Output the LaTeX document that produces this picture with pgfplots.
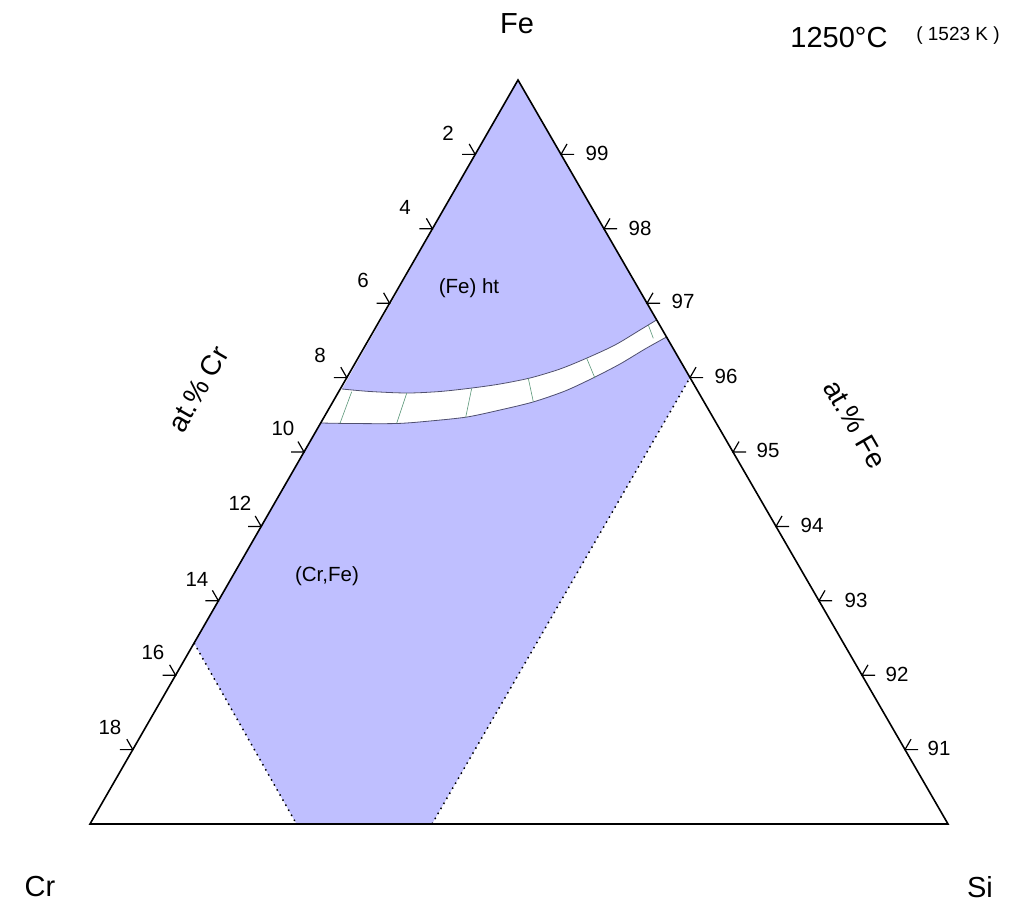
\documentclass[border=0pt]{standalone}
\usepackage{pgfplots}
\pgfplotsset{compat=1.18}
\usepackage{fontspec}
\setmainfont{Liberation Sans}
\definecolor{phase}{RGB}{191,191,255}
\definecolor{bnd}{RGB}{80,80,110}
\definecolor{tie}{RGB}{90,150,120}
\tikzset{tl/.style={font=\fontsize{20.5}{22}\selectfont, inner sep=0pt},
         bl/.style={font=\fontsize{29}{32}\selectfont, inner sep=0pt},
         al/.style={font=\fontsize{28}{31}\selectfont, inner sep=0pt}}
\begin{document}
\begin{tikzpicture}
\begin{axis}[
  scale only axis, width=1018pt, height=912pt,
  xmin=0, xmax=1018, ymin=0, ymax=912, y dir=reverse,
  hide axis, clip=false, unbounded coords=jump,
]
\path (rel axis cs:0,0) rectangle (rel axis cs:1,1);
% (Fe) ht region
\addplot[draw=none, fill=phase] coordinates {
 (518,80) (342,389) (370,391.5) (407,393) (440,391.5) (472,388) (500,384)
 (530,378) (560,369) (587,358) (615,345) (640,330) (656.5,320) (518,80)};
% (Cr,Fe) region
\addplot[draw=none, fill=phase] coordinates {
 (321,423) (194,643) (296.5,824) (432,824) (690,377.6) (666.5,337)
 (645,349) (620,364) (593,378) (565,391) (533,402) (500,410) (467,417)
 (430,421) (397,423.5) (350,423.5) (321,423)};
% band boundaries
\addplot[bnd, line width=0.8pt, smooth] coordinates {
 (342,389) (370,391.5) (407,393) (440,391.5) (472,388) (500,384)
 (530,378) (560,369) (587,358) (615,345) (640,330) (656.5,320)};
\addplot[bnd, line width=0.8pt, smooth] coordinates {
 (321,423) (350,423.5) (397,423.5) (430,421) (467,417) (500,410)
 (533,402) (565,391) (593,378) (620,364) (645,349) (666.5,337)};
% tie lines
\addplot[tie, line width=0.6pt] coordinates {
 (351.7,391.7) (340,423.3) (nan,nan)
 (406.7,393.3) (396.7,423.3) (nan,nan)
 (471.7,388.3) (465.7,417.3) (nan,nan)
 (528.3,378.3) (533.3,401.7) (nan,nan)
 (586.7,358.3) (595,378.3) (nan,nan)
 (648.3,325) (653.3,338.3)};
% dotted phase boundaries
\addplot[black, line width=1.5pt, dash pattern=on 1.5pt off 4.3pt] coordinates {(194,643) (296.5,824)};
\addplot[black, line width=1.5pt, dash pattern=on 1.5pt off 4.3pt] coordinates {(432,824) (690,377.6)};
% triangle
\addplot[black, line width=1.6pt] coordinates {(518,80) (90,824) (948,824) (518,80) (90,824)};
% ticks
\addplot[black, line width=1.2pt] coordinates {
 (462.2,154.4)(475.2,154.4)(469.2,144.0) (nan,nan)
 (419.4,228.8)(432.4,228.8)(426.4,218.4) (nan,nan)
 (376.6,303.2)(389.6,303.2)(383.6,292.8) (nan,nan)
 (333.8,377.6)(346.8,377.6)(340.8,367.2) (nan,nan)
 (291,452)(304,452)(298,441.6) (nan,nan)
 (248.2,526.4)(261.2,526.4)(255.2,516) (nan,nan)
 (205.4,600.8)(218.4,600.8)(212.4,590.4) (nan,nan)
 (162.6,675.2)(175.6,675.2)(169.6,664.8) (nan,nan)
 (119.8,749.6)(132.8,749.6)(126.8,739.2) (nan,nan)
 (574,154.4)(561,154.4)(567,144.0) (nan,nan)
 (617,228.8)(604,228.8)(610,218.4) (nan,nan)
 (660,303.2)(647,303.2)(653,292.8) (nan,nan)
 (703,377.6)(690,377.6)(696,367.2) (nan,nan)
 (746,452)(733,452)(739,441.6) (nan,nan)
 (789,526.4)(776,526.4)(782,516) (nan,nan)
 (832,600.8)(819,600.8)(825,590.4) (nan,nan)
 (875,675.2)(862,675.2)(868,664.8) (nan,nan)
 (918,749.6)(905,749.6)(911,739.2)};
% tick labels
\node[tl] at (axis cs:448,133) {2};
\node[tl] at (axis cs:405,207) {4};
\node[tl] at (axis cs:363,280) {6};
\node[tl] at (axis cs:320,355) {8};
\node[tl] at (axis cs:283,428) {10};
\node[tl] at (axis cs:240,503) {12};
\node[tl] at (axis cs:197,579) {14};
\node[tl] at (axis cs:153,652) {16};
\node[tl] at (axis cs:110,727) {18};
\node[tl] at (axis cs:597,153) {99};
\node[tl] at (axis cs:640,228) {98};
\node[tl] at (axis cs:683,301) {97};
\node[tl] at (axis cs:726,376) {96};
\node[tl] at (axis cs:768,450) {95};
\node[tl] at (axis cs:812,525) {94};
\node[tl] at (axis cs:856,600) {93};
\node[tl] at (axis cs:897,674) {92};
\node[tl] at (axis cs:939,748) {91};
\node[tl] at (axis cs:469,288) {(Fe) ht};
\node[tl] at (axis cs:327,576) {(Cr,Fe)};
\node[bl] at (axis cs:517,24) {Fe};
\node[bl] at (axis cs:40,887) {Cr};
\node[bl] at (axis cs:980,887) {Si};
\node[bl] at (axis cs:839,38) {1250°C};
\node[al, rotate=60] at (axis cs:198,389) {at.\% Cr};
\node[al, rotate=-60] at (axis cs:855,424) {at.\% Fe};
\node[font=\fontsize{19}{21}\selectfont, inner sep=0pt] at (axis cs:958,36) {( 1523 K )};
\end{axis}
\end{tikzpicture}
\end{document}
